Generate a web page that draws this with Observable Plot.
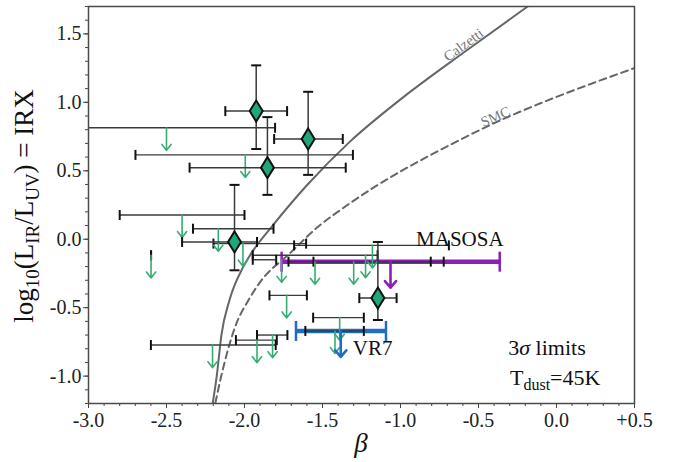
<!DOCTYPE html>
<html>
<head>
<meta charset="utf-8">
<script src="https://cdn.jsdelivr.net/npm/d3@7"></script>
<script src="https://cdn.jsdelivr.net/npm/@observablehq/plot@0.6"></script>
<style>
  body { margin: 0; background: white; }
  #chart { width: 680px; height: 462px; }
</style>
</head>
<body>
<div id="chart"></div>
<script>
// ---------- axis ticks ----------
const xTicks = [-3.0, -2.5, -2.0, -1.5, -1.0, -0.5, 0.0, 0.5];
const xTickLabels = ["-3.0", "-2.5", "-2.0", "-1.5", "-1.0", "-0.5", "0.0", "+0.5"];
const yTicks = [-1.0, -0.5, 0.0, 0.5, 1.0, 1.5];
const yTickLabels = ["-1.0", "-0.5", "0.0", "0.5", "1.0", "1.5"];

// ---------- attenuation curves ----------
const calzBeta = [-2.204, -2.178, -2.148, -2.096, -2.007, -1.942, -1.825, -1.600, -1.324, -1.004, -0.577, -0.185];
const calzIRX  = [-1.20, -1.00, -0.70, -0.444, -0.20, -0.078, 0.092, 0.394, 0.713, 1.018, 1.379, 1.70];
const smcBeta  = [-2.187, -2.155, -2.060, -1.974, -1.899, -1.708, -1.537, -1.356, -0.577, 0.50];
const smcIRX   = [-1.198, -1.029, -0.640, -0.444, -0.312, -0.102, 0.083, 0.237, 0.750, 1.25];
const curveLabels = ["Calzetti", "SMC"];
const curveLabelBeta = [-0.596, -0.391];
const curveLabelIRX = [1.419, 0.894];

// ---------- detections (green diamonds) ----------
const detBeta   = [-1.925, -1.592, -1.853, -2.064, -1.145];
const detIRX    = [0.936, 0.732, 0.523, -0.020, -0.430];
const detBetaLo = [-2.123, -1.810, -2.352, -2.400, -1.264];
const detBetaHi = [-1.727, -1.370, -1.351, -1.920, -1.025];
const detIRXLo  = [0.659, 0.470, 0.324, -0.227, -0.590];
const detIRXHi  = [1.270, 1.077, 0.892, 0.397, -0.020];

// ---------- 3-sigma upper limits (green arrows) ----------
const limBeta   = [-2.50, -1.995, -2.40, -2.168, -2.01, -2.599, -1.18, -1.224, -1.30, -1.548, -1.762, -1.73, -1.39, -1.42, -2.205, -1.92, -1.82];
const limIRX    = [0.814, 0.616, 0.177, 0.077, -0.032, -0.118, -0.045, -0.117, -0.164, -0.164, -0.150, -0.410, -0.573, -0.670, -0.773, -0.737, -0.700];
const limBetaLo = [-3.30, -2.699, -2.80, -2.330, -2.199, -2.599, -1.682, -1.947, -1.718, -1.558, -1.947, -1.84, -1.56, -1.61, -2.600, -2.055, -1.920];
const limBetaHi = [-1.804, -1.305, -2.00, -1.814, -1.605, -2.599, -0.690, -1.147, -0.806, -0.723, -1.797, -1.60, -1.235, -1.235, -1.800, -1.793, -1.725];

// ---------- named sources ----------
const srcNames  = ["MASOSA", "VR7"];
const srcBeta   = [-1.064, -1.383];
const srcIRX    = [-0.164, -0.670];
const srcBetaLo = [-1.762, -1.670];
const srcBetaHi = [-0.364, -1.093];
const srcLabelBeta = [-0.900, -1.306];
const srcLabelIRX  = [-0.049, -0.846];

// ---------- legend note ----------
const noteBeta = [-0.306, -0.295];
const noteIRX  = [-0.846, -1.065];

// ---------- build tables ----------
const calz = calzBeta.map((b, i) => ({beta: b, irx: calzIRX[i]}));
const smc = smcBeta.map((b, i) => ({beta: b, irx: smcIRX[i]}));
const dets = detBeta.map((b, i) => ({beta: b, irx: detIRX[i], lo: detBetaLo[i], hi: detBetaHi[i], ylo: detIRXLo[i], yhi: detIRXHi[i]}));
const lims = limBeta.map((b, i) => ({beta: b, irx: limIRX[i], lo: limBetaLo[i], hi: limBetaHi[i]}));
const srcs = srcNames.map((n, i) => ({name: n, beta: srcBeta[i], irx: srcIRX[i], lo: srcBetaLo[i], hi: srcBetaHi[i], lb: srcLabelBeta[i], ly: srcLabelIRX[i]}));
const cLabels = curveLabels.map((n, i) => ({name: n, beta: curveLabelBeta[i], irx: curveLabelIRX[i]}));

const minorX = d3.range(-30, 6).map(i => i / 10);
const minorY = d3.range(-12, 18).map(i => i / 10);

// ---------- custom symbols (pixel sized) ----------
const vcap = {draw(c) { c.moveTo(0, -5); c.lineTo(0, 5); }};
const hcap = {draw(c) { c.moveTo(-5, 0); c.lineTo(5, 0); }};
const bigcap = {draw(c) { c.moveTo(0, -10); c.lineTo(0, 10); }};
const tallDiamond = {draw(c) { c.moveTo(0, -10.5); c.lineTo(6.5, 0); c.lineTo(0, 10.5); c.lineTo(-6.5, 0); c.closePath(); }};

const green = "#36ad72";
const purple = "#8c1fb4";
const blue = "#1f6ec2";
const barColor = "#3a3a3a";
const capColor = "#111";
const arrowLen = 0.165;
const srcColor = d => d.name === "MASOSA" ? purple : blue;

const xLab = new Map(xTicks.map((t, i) => [t, xTickLabels[i]]));
const yLab = new Map(yTicks.map((t, i) => [t, yTickLabels[i]]));

const plot = Plot.plot({
  width: 680,
  height: 462,
  marginLeft: 88,
  marginRight: 46,
  marginTop: 6,
  marginBottom: 59,
  x: {domain: [-3.0, 0.5], label: null},
  y: {domain: [-1.2, 1.7], label: null},
  style: {fontFamily: "'Liberation Serif', serif", fontSize: "20px", color: "#222", background: "white"},
  marks: [
    // curves
    Plot.line(calz, {x: "beta", y: "irx", curve: "monotone-x", stroke: "#666", strokeWidth: 2, clip: true}),
    Plot.line(smc, {x: "beta", y: "irx", curve: "monotone-x", stroke: "#666", strokeWidth: 2, strokeDasharray: "7,4.5", clip: true}),
    Plot.text(cLabels, {x: "beta", y: "irx", text: "name", rotate: d => d.name === "Calzetti" ? -36 : -24, fill: "#777", fontSize: 14.5}),

    // named sources: thick bars
    Plot.ruleY(srcs, {y: "irx", x1: "lo", x2: "hi", stroke: srcColor, strokeWidth: 4.5}),
    Plot.dot(srcs, {x: "lo", y: "irx", symbol: bigcap, stroke: srcColor, strokeWidth: 2.5, fill: "none"}),
    Plot.dot(srcs, {x: "hi", y: "irx", symbol: bigcap, stroke: srcColor, strokeWidth: 2.5, fill: "none"}),

    // limits: beta error bars
    Plot.ruleY(lims, {y: "irx", x1: "lo", x2: "hi", stroke: barColor, strokeWidth: 1.4, clip: true}),
    Plot.dot(lims, {x: "lo", y: "irx", symbol: vcap, stroke: capColor, strokeWidth: 2, fill: "none", clip: true}),
    Plot.dot(lims, {x: "hi", y: "irx", symbol: vcap, stroke: capColor, strokeWidth: 2, fill: "none", clip: true}),
    Plot.arrow(lims, {x1: "beta", x2: "beta", y1: "irx", y2: d => d.irx - arrowLen, stroke: green, strokeWidth: 1.6, headLength: 9, headAngle: 75}),

    // named sources: arrows
    Plot.arrow(srcs, {x1: "beta", x2: "beta", y1: "irx", y2: d => d.irx - 0.19, stroke: srcColor, strokeWidth: 2.6, headLength: 11, headAngle: 80}),
    Plot.text(srcs, {x: "lb", y: "ly", text: "name", textAnchor: "start", lineAnchor: "bottom", fontSize: 21, fill: "#111"}),

    // detections
    Plot.ruleY(dets, {y: "irx", x1: "lo", x2: "hi", stroke: barColor, strokeWidth: 1.5}),
    Plot.ruleX(dets, {x: "beta", y1: "ylo", y2: "yhi", stroke: barColor, strokeWidth: 1.5}),
    Plot.dot(dets, {x: "lo", y: "irx", symbol: vcap, stroke: capColor, strokeWidth: 2, fill: "none"}),
    Plot.dot(dets, {x: "hi", y: "irx", symbol: vcap, stroke: capColor, strokeWidth: 2, fill: "none"}),
    Plot.dot(dets, {x: "beta", y: "ylo", symbol: hcap, stroke: capColor, strokeWidth: 2, fill: "none"}),
    Plot.dot(dets, {x: "beta", y: "yhi", symbol: hcap, stroke: capColor, strokeWidth: 2, fill: "none"}),
    Plot.dot(dets, {x: "beta", y: "irx", symbol: tallDiamond, fill: "#1fa67a", stroke: "#111", strokeWidth: 2}),

    // axes
    Plot.axisX({ticks: minorX, tickSize: 3, fill: "none", stroke: "#444", label: null}),
    Plot.axisX({ticks: xTicks, tickSize: 5, tickPadding: 4.5, tickFormat: d => xLab.get(d), stroke: "#444", fill: "#222", label: null}),
    Plot.axisY({ticks: minorY, tickSize: 3, fill: "none", stroke: "#444", label: null}),
    Plot.axisY({ticks: yTicks, tickSize: 5, tickPadding: 2, tickFormat: d => yLab.get(d), stroke: "#444", fill: "#222", label: null}),
    Plot.frame({stroke: "#4a4a4a", strokeWidth: 1.5})
  ]
});

document.getElementById("chart").appendChild(plot);

// ---------- rich-text labels (subscripts, italics) ----------
const svg = d3.select(plot);
const xs = plot.scale("x"), ys = plot.scale("y");

// y-axis title
const yt = svg.append("text")
  .attr("transform", "translate(33,206) rotate(-90)")
  .attr("text-anchor", "middle")
  .attr("font-family", "'Liberation Serif', serif")
  .attr("font-size", 27)
  .attr("fill", "#111");
yt.append("tspan").text("log");
yt.append("tspan").attr("font-size", 19).attr("dy", 6).text("10");
yt.append("tspan").attr("dy", -6).text("(L");
yt.append("tspan").attr("font-size", 19).attr("dy", 6).text("IR");
yt.append("tspan").attr("dy", -6).text("/L");
yt.append("tspan").attr("font-size", 19).attr("dy", 6).text("UV");
yt.append("tspan").attr("dy", -6).text(") = IRX");

// x-axis title
svg.append("text")
  .attr("x", (xs.apply(-3.0) + xs.apply(0.5)) / 2)
  .attr("y", 452)
  .attr("text-anchor", "middle")
  .attr("font-family", "'Liberation Serif', serif")
  .attr("font-style", "italic")
  .attr("font-size", 27)
  .attr("fill", "#111")
  .text("β");

// note: 3σ limits / T_dust = 45K
const n1 = svg.append("text")
  .attr("x", xs.apply(noteBeta[0])).attr("y", ys.apply(noteIRX[0]))
  .attr("text-anchor", "start")
  .attr("font-family", "'Liberation Serif', serif").attr("font-size", 22).attr("fill", "#111");
n1.append("tspan").text("3");
n1.append("tspan").attr("font-style", "italic").text("σ");
n1.append("tspan").text(" limits");

const n2 = svg.append("text")
  .attr("x", xs.apply(noteBeta[1])).attr("y", ys.apply(noteIRX[1]))
  .attr("text-anchor", "start")
  .attr("font-family", "'Liberation Serif', serif").attr("font-size", 22).attr("fill", "#111");
n2.append("tspan").text("T");
n2.append("tspan").attr("font-size", 16).attr("dy", 5).text("dust");
n2.append("tspan").attr("dy", -5).text("=45K");
</script>
</body>
</html>
